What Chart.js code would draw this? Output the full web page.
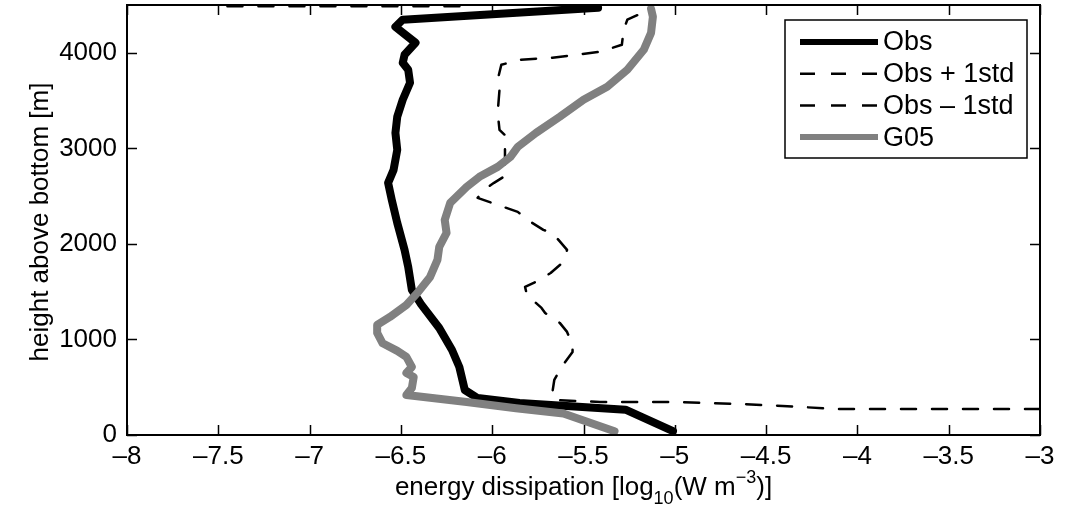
<!DOCTYPE html>
<html>
<head>
<meta charset="utf-8">
<script src="https://cdn.jsdelivr.net/npm/chart.js@4.4.0/dist/chart.umd.min.js"></script>
<style>
  html, body { margin: 0; padding: 0; background: #fff; }
</style>
</head>
<body>
<canvas id="myChart" width="1071" height="510"></canvas>
<script>
const FONT = "'Liberation Sans', Arial, Helvetica, sans-serif";

// tick values
const xTicks = [-8, -7.5, -7, -6.5, -6, -5.5, -5, -4.5, -4, -3.5, -3];
const yTicks = [0, 1000, 2000, 3000, 4000];

// Obs profile (bottom to top)
const obsX = [-5.01, -5.27, -5.85, -6.08, -6.15, -6.18, -6.22, -6.29, -6.39, -6.44, -6.46, -6.48, -6.52, -6.55,
              -6.57, -6.54, -6.52, -6.53, -6.52, -6.49, -6.45, -6.46, -6.49, -6.48, -6.42, -6.53, -6.49, -5.42];
const obsY = [40, 265, 335, 387, 471, 712, 890, 1120, 1370, 1518, 1759, 1937, 2220, 2461,
              2639, 2775, 2984, 3162, 3330, 3508, 3686, 3822, 3895, 3979, 4105, 4272, 4346, 4471];

// Obs + 1std
const plusX = [-3.0, -4.11, -4.41, -4.64, -5.01, -5.41, -5.66, -5.67, -5.66, -5.62, -5.56, -5.56, -5.59, -5.63,
               -5.71, -5.73, -5.81, -5.82, -5.74, -5.68, -5.61, -5.59, -5.67, -5.72, -5.79, -5.86, -5.94, -6.08,
               -6.03, -5.99, -5.92, -5.93, -5.93, -5.92, -5.96, -5.97, -5.96, -5.97, -5.95, -5.85, -5.67, -5.41,
               -5.29, -5.28, -5.26, -5.14];
const plusY = [272, 272, 304, 325, 346, 346, 366, 450, 576, 712, 869, 942, 1079, 1173,
               1277, 1330, 1466, 1550, 1623, 1696, 1812, 1937, 2115, 2147, 2230, 2335, 2388, 2482,
               2586, 2639, 2723, 2775, 3016, 3120, 3194, 3372, 3613, 3717, 3874, 3927, 3948, 4010,
               4084, 4241, 4346, 4450];

// Obs - 1std (only visible at the top)
const minusX = [-7.45, -6.14];
const minusY = [4488, 4488];

// G05 model
const g05X = [-5.33, -5.61, -5.87, -6.14, -6.47, -6.44, -6.43, -6.47, -6.44, -6.47, -6.52, -6.60, -6.63, -6.63,
              -6.56, -6.47, -6.41, -6.34, -6.30, -6.29, -6.25, -6.26, -6.23, -6.14, -6.07, -5.97, -5.90, -5.86,
              -5.76, -5.63, -5.50, -5.37, -5.26, -5.17, -5.13, -5.12, -5.13];
const g05Y = [40, 225, 280, 346, 419, 492, 607, 649, 712, 817, 880, 960, 1068, 1152,
              1236, 1361, 1487, 1654, 1832, 1969, 2115, 2251, 2429, 2597, 2702, 2806, 2911, 3016,
              3162, 3330, 3508, 3644, 3822, 4031, 4209, 4377, 4460];

function pts(xs, ys) {
    return xs.map((x, i) => ({x: x, y: ys[i]}));
}

function fmt(v) {
    return String(v).replace('-', '\u2013');
}

function noPad(s) {
    s.paddingTop = 0; s.paddingBottom = 0; s.paddingLeft = 0; s.paddingRight = 0;
}

// ticks inside the box, box, legend and axis titles
const matlabFrame = {
    id: 'matlabFrame',
    afterDraw(chart) {
        const ctx = chart.ctx;
        const a = chart.chartArea;
        const sx = chart.scales.x, sy = chart.scales.y;
        ctx.save();
        ctx.strokeStyle = '#000';
        ctx.lineWidth = 1.5;
        ctx.beginPath();
        xTicks.forEach(v => {
            const p = Math.round(sx.getPixelForValue(v)) + 0.5;
            ctx.moveTo(p, a.bottom); ctx.lineTo(p, a.bottom - 10);
            ctx.moveTo(p, a.top); ctx.lineTo(p, a.top + 10);
        });
        yTicks.forEach(v => {
            const p = Math.round(sy.getPixelForValue(v)) + 0.5;
            ctx.moveTo(a.left, p); ctx.lineTo(a.left + 10, p);
            ctx.moveTo(a.right, p); ctx.lineTo(a.right - 10, p);
        });
        ctx.stroke();
        ctx.lineWidth = 2;
        ctx.strokeRect(a.left, a.top, a.right - a.left, a.bottom - a.top);

        // legend
        const lx = 785, ly = 20, lw = 242, lh = 138;
        ctx.fillStyle = '#fff';
        ctx.fillRect(lx, ly, lw, lh);
        ctx.lineWidth = 1.5;
        ctx.strokeStyle = '#000';
        ctx.strokeRect(lx, ly, lw, lh);
        ctx.font = '27px ' + FONT;
        ctx.textBaseline = 'middle';
        ctx.textAlign = 'left';
        chart.data.datasets.forEach((ds, i) => {
            const y = 42 + i * 31.7;
            ctx.save();
            ctx.strokeStyle = ds.borderColor;
            ctx.lineWidth = Math.min(ds.borderWidth, 6);
            ctx.setLineDash(ds.borderDash || []);
            ctx.beginPath();
            ctx.moveTo(800, y); ctx.lineTo(878, y);
            ctx.stroke();
            ctx.restore();
            ctx.fillStyle = '#000';
            ctx.fillText(ds.label, 883, y + 1);
        });

        // y title
        ctx.save();
        ctx.translate(48, 222);
        ctx.rotate(-Math.PI / 2);
        ctx.textAlign = 'center';
        ctx.textBaseline = 'alphabetic';
        ctx.font = '26px ' + FONT;
        ctx.fillText('height above bottom [m]', 0, 0);
        ctx.restore();

        // x title with sub/superscript
        const big = '26px ' + FONT, small = '18px ' + FONT;
        const parts = [
            {t: 'energy dissipation [log', f: big, dy: 0},
            {t: '10', f: small, dy: 9},
            {t: '(W m', f: big, dy: 0},
            {t: '\u22123', f: small, dy: -12},
            {t: ')]', f: big, dy: 0}
        ];
        let w = 0;
        parts.forEach(p => { ctx.font = p.f; p.w = ctx.measureText(p.t).width; w += p.w; });
        let x = (a.left + a.right) / 2 - w / 2;
        const base = 495;
        ctx.textBaseline = 'alphabetic';
        ctx.fillStyle = '#000';
        parts.forEach(p => {
            ctx.font = p.f;
            ctx.fillText(p.t, x, base + p.dy);
            x += p.w;
        });
        ctx.restore();
    }
};

const CHART = document.getElementById('myChart');
const myChart = new Chart(CHART, {
    type: 'scatter',
    data: {
        datasets: [{
            label: 'Obs',
            data: pts(obsX, obsY),
            borderColor: '#000',
            borderWidth: 8,
            order: 4
        }, {
            label: 'Obs + 1std',
            data: pts(plusX, plusY),
            borderColor: '#000',
            borderWidth: 2.5,
            borderDash: [15, 16],
            order: 3
        }, {
            label: 'Obs \u2013 1std',
            data: pts(minusX, minusY),
            borderColor: '#000',
            borderWidth: 2.5,
            borderDash: [15, 16],
            order: 2
        }, {
            label: 'G05',
            data: pts(g05X, g05Y),
            borderColor: 'rgb(128,128,128)',
            borderWidth: 8,
            order: 1
        }]
    },
    options: {
        responsive: false,
        animation: false,
        devicePixelRatio: 1,
        showLine: true,
        elements: {
            point: { radius: 0, hoverRadius: 0 },
            line: { tension: 0, borderCapStyle: 'round', borderJoinStyle: 'round', fill: false }
        },
        layout: { padding: { top: 5, right: 31, left: 0, bottom: 0 } },
        plugins: {
            legend: { display: false },
            tooltip: { enabled: false }
        },
        scales: {
            x: {
                type: 'linear',
                min: -8,
                max: -3,
                grid: { display: false, drawTicks: false },
                border: { display: false },
                afterBuildTicks: s => { s.ticks = xTicks.map(v => ({value: v})); },
                afterFit: s => { s.height = 75; noPad(s); },
                ticks: {
                    color: '#000',
                    font: { family: FONT, size: 26 },
                    padding: 6,
                    maxRotation: 0,
                    autoSkip: false,
                    callback: v => fmt(v)
                }
            },
            y: {
                type: 'linear',
                min: 0,
                max: 4500,
                grid: { display: false, drawTicks: false },
                border: { display: false },
                afterBuildTicks: s => { s.ticks = yTicks.map(v => ({value: v})); },
                afterFit: s => { s.width = 127; noPad(s); },
                ticks: {
                    color: '#000',
                    font: { family: FONT, size: 26 },
                    padding: 10,
                    autoSkip: false,
                    callback: v => fmt(v)
                }
            }
        }
    },
    plugins: [matlabFrame]
});
</script>
</body>
</html>
